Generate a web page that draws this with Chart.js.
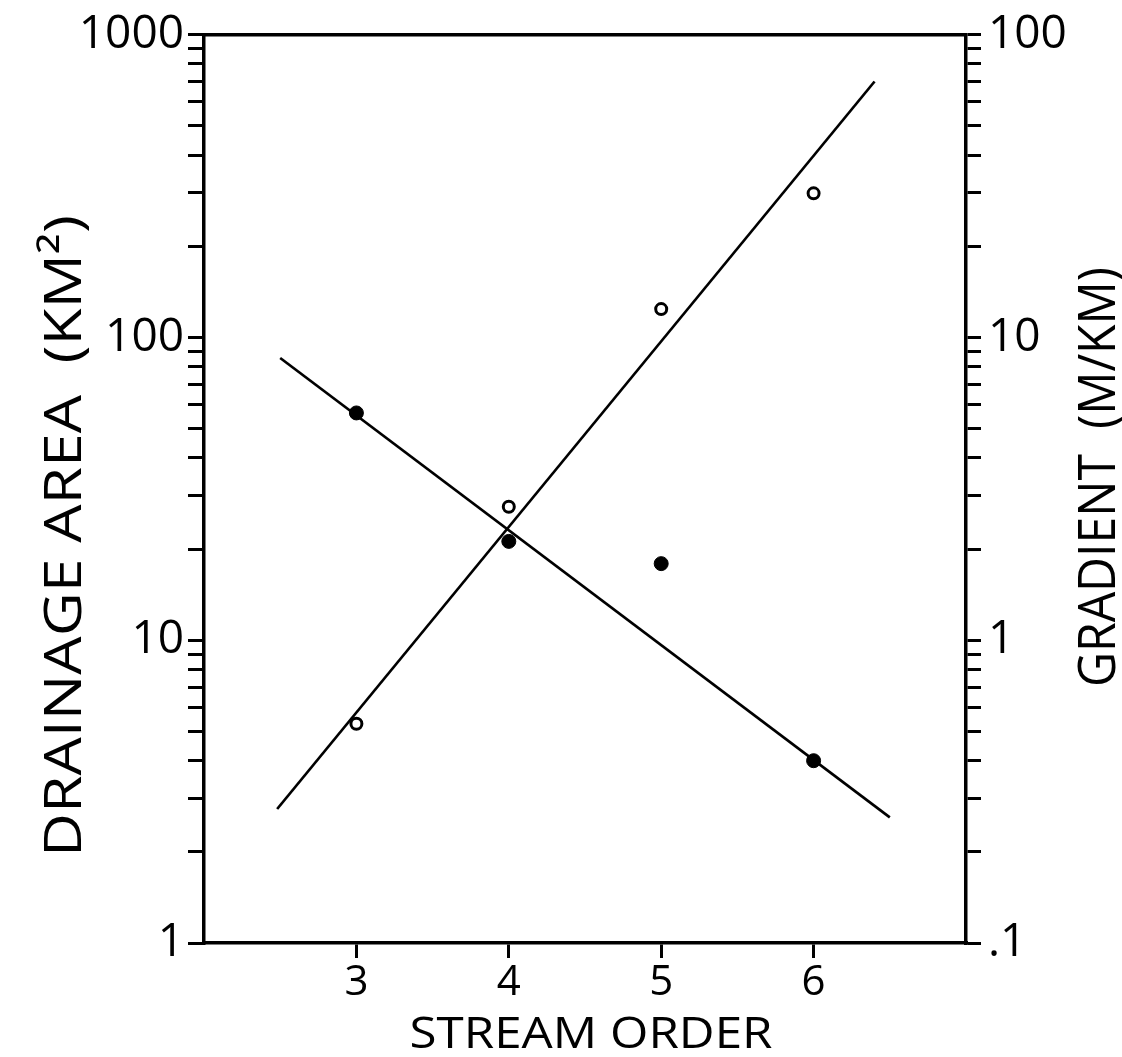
<!DOCTYPE html>
<html>
<head>
<meta charset="utf-8">
<script src="https://cdn.jsdelivr.net/npm/chart.js@4/dist/chart.umd.min.js"></script>
<style>
  html, body { margin: 0; padding: 0; background: #fff; }
  canvas { display: block; }
</style>
</head>
<body>
<canvas id="c" width="1122" height="1057"></canvas>
<script>
// ---- data ----
const streamOrder = [3, 4, 5, 6];
const drainageArea = [5.3, 27.6, 124, 299];     // km^2, left axis (open circles)
const gradient = [5.63, 2.12, 1.79, 0.40];      // m/km, right axis (filled circles)

const areaFitX = [2.48, 6.40];
const areaFitY = [2.77, 700];
const gradFitX = [2.50, 6.50];
const gradFitY = [8.55, 0.26];

const xTickValues = [3, 4, 5, 6];
const xTickLabels = ['3', '4', '5', '6'];
const leftMajor = [1, 10, 100, 1000];
const leftMajorLabels = ['1', '10', '100', '1000'];
const rightMajor = [0.1, 1, 10, 100];
const rightMajorLabels = ['.1', '1', '10', '100'];
const minorMultipliers = [1, 2, 3, 4, 5, 6, 7, 8, 9];

const xTitle = 'STREAM ORDER';
const yLeftTitle = 'DRAINAGE AREA  (KM\u00B2)';
const yRightTitle = 'GRADIENT  (M/KM)';

// ---- helpers ----
function logTicks(majors) {
  const out = [];
  for (let i = 0; i < majors.length - 1; i++) {
    minorMultipliers.forEach(m => out.push(+(majors[i] * m).toPrecision(6)));
  }
  out.push(majors[majors.length - 1]);
  return out;
}
function labelFor(majors, labels) {
  return function (v) {
    for (let i = 0; i < majors.length; i++) {
      if (Math.abs(v - majors[i]) < majors[i] * 1e-6) return labels[i];
    }
    return '';
  };
}
const FONT = 'Open Sans';
const black = '#000';

const titlePlugin = {
  id: 'titles',
  afterDraw(chart) {
    const ctx = chart.ctx;
    function draw(text, cx, cy, rot, cap, width) {
      const size = cap / 0.714;
      ctx.save();
      ctx.font = '400 ' + size + 'px "' + FONT + '"';
      ctx.fillStyle = black;
      ctx.textAlign = 'center';
      ctx.textBaseline = 'alphabetic';
      const w = ctx.measureText(text).width;
      ctx.translate(cx, cy);
      ctx.rotate(rot);
      ctx.scale(width / w, 1);
      ctx.fillText(text, 0, cap / 2);
      ctx.restore();
    }
    draw(xTitle, 591, 1032, 0, 31, 363);
    draw(yLeftTitle, 62, 536, -Math.PI / 2, 37, 642);
    draw(yRightTitle, 1097, 477, -Math.PI / 2, 36, 420);
  }
};

const ctx = document.getElementById('c').getContext('2d');
new Chart(ctx, {
  type: 'scatter',
  data: {
    datasets: [
      {
        label: 'Drainage area',
        data: streamOrder.map((x, i) => ({ x: x, y: drainageArea[i] })),
        yAxisID: 'y',
        pointRadius: 5.5,
        pointBorderWidth: 3,
        pointBackgroundColor: '#fff',
        pointBorderColor: black,
        showLine: false
      },
      {
        label: 'Gradient',
        data: streamOrder.map((x, i) => ({ x: x, y: gradient[i] })),
        yAxisID: 'y2',
        pointRadius: 7,
        pointBorderWidth: 1,
        pointBackgroundColor: black,
        pointBorderColor: black,
        showLine: false
      },
      {
        label: 'Drainage area fit',
        data: areaFitX.map((x, i) => ({ x: x, y: areaFitY[i] })),
        yAxisID: 'y',
        showLine: true,
        borderColor: black,
        borderWidth: 2.7,
        pointRadius: 0
      },
      {
        label: 'Gradient fit',
        data: gradFitX.map((x, i) => ({ x: x, y: gradFitY[i] })),
        yAxisID: 'y2',
        showLine: true,
        borderColor: black,
        borderWidth: 2.7,
        pointRadius: 0
      }
    ]
  },
  options: {
    responsive: false,
    animation: false,
    layout: { padding: 0 },
    plugins: { legend: { display: false }, tooltip: { enabled: false }, title: { display: false } },
    scales: {
      x: {
        type: 'linear', position: 'bottom', min: 2, max: 7,
        afterBuildTicks: s => { s.ticks = xTickValues.map(v => ({ value: v })); },
        afterFit: s => { s.height = 114; },
        ticks: {
          autoSkip: false, maxRotation: 0, padding: 0, color: black,
          font: { family: FONT, size: 42, weight: '400' },
          callback: labelFor(xTickValues, xTickLabels)
        },
        grid: { drawOnChartArea: false, drawTicks: true, tickLength: 15, lineWidth: 3, color: black },
        border: { display: true, width: 3.5, color: black }
      },
      xTop: {
        type: 'linear', position: 'top', min: 2, max: 7,
        afterFit: s => { s.height = 33; },
        ticks: { display: false },
        grid: { display: false },
        border: { display: true, width: 3.5, color: black }
      },
      y: {
        type: 'logarithmic', position: 'left', min: 1, max: 1000,
        afterBuildTicks: s => { s.ticks = logTicks(leftMajor).map(v => ({ value: v })); },
        afterFit: s => { s.width = 204; },
        ticks: {
          autoSkip: false, padding: 4, color: black,
          font: { family: FONT, size: 46, weight: '400' },
          callback: labelFor(leftMajor, leftMajorLabels)
        },
        grid: { drawOnChartArea: false, drawTicks: true, tickLength: 16, lineWidth: 3, color: black },
        border: { display: true, width: 3.5, color: black }
      },
      y2: {
        type: 'logarithmic', position: 'right', min: 0.1, max: 100,
        afterBuildTicks: s => { s.ticks = logTicks(rightMajor).map(v => ({ value: v })); },
        afterFit: s => { s.width = 156; },
        ticks: {
          autoSkip: false, padding: 7, color: black,
          font: { family: FONT, size: 46, weight: '400' },
          callback: labelFor(rightMajor, rightMajorLabels)
        },
        grid: { drawOnChartArea: false, drawTicks: true, tickLength: 15, lineWidth: 3, color: black },
        border: { display: true, width: 3.5, color: black }
      }
    }
  },
  plugins: [titlePlugin]
});
</script>
</body>
</html>
